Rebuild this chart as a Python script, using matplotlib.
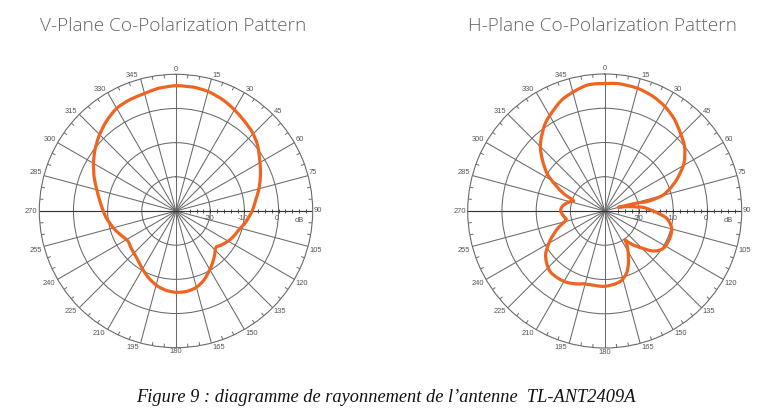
import numpy as np
import matplotlib
matplotlib.use("Agg")
import matplotlib.pyplot as plt
from matplotlib.path import Path
from matplotlib.patches import PathPatch

v_angle = [0, 8, 15, 23, 30, 37, 44, 51, 57, 64, 70, 76, 83, 90, 100, 106, 112, 118, 124, 128, 131,
           134, 139, 145, 150, 158, 165, 172, 180, 187, 194, 202, 209, 216, 223, 231, 238, 245, 253,
           259, 265, 270, 277, 285, 292, 300, 307, 314, 322, 330, 338, 345, 352, 360]
v_db = [6.7, 6.6, 6.2, 5.3, 4.2, 3.1, 2.1, 0.7, -0.9, -2.5, -3.8, -5.1, -6.6, -7.7, -9.5, -10.7, -11.4, -12.1,
        -13.0, -13.6, -14.2, -14.0, -12.8, -11.4, -10.2, -8.2, -6.9, -6.3, -6.2, -6.6, -7.4, -8.8, -10.2,
        -11.5, -12.4, -13.0, -13.4, -12.6, -11.3, -10.4, -9.4, -8.7, -7.6, -6.0, -4.2, -2.1, -0.3, 1.4,
        3.2, 4.7, 5.3, 5.6, 6.3, 6.7]

h_angle = [0, 6, 15, 23, 30, 37, 43.5, 51, 59, 66.7, 71, 74.7, 76.5, 77.5, 76.5, 76, 75, 79, 82.9, 84.6, 91.5,
           96.7, 104.5, 112.7, 122.5, 129.4, 136, 141, 145, 147, 150.8, 156, 160.6, 167.8, 180, 193.8, 201,
           207.9, 215, 222, 228, 234.3, 242, 250, 256.9, 262, 269, 274, 278.3, 284, 288.3, 293, 303, 315,
           325.8, 333, 339.9, 351.9, 360]
h_db = [7.2, 7.4, 7.1, 6.3, 5.2, 3.7, 1.9, 0.0, -3.0, -7.2, -9.8, -12.3, -15.0, -17.5, -19.6, -21.4, -25.9, -23.2,
        -20.6, -18.7, -14.9, -11.8, -9.8, -9.4, -9.7, -11.6, -15.2, -17.5, -19.7, -18.0, -15.9, -13.0, -10.8,
        -8.9, -8.0, -8.0, -7.2, -6.4, -6.1, -6.2, -7.2, -8.8, -12.0, -15.5, -18.4, -18.0, -17.2, -17.3, -17.9,
        -19.2, -20.4, -16.9, -9.9, -3.4, 0.9, 3.0, 5.0, 7.1, 7.2]

angle_labels = list(range(0, 360, 15))
angle_ticks = [a for a in range(0, 360, 5) if a % 15 != 0]
db_labels = [-20, -10, 0]
db_ticks = list(range(-26, 10, 2))

W, H = 780, 416
orange = "#ee6420"
grid_col = "#6a6a6a"
text_col = "#555555"
fig = plt.figure(figsize=(W / 100, H / 100), dpi=100)


def smooth_path(angles, vals, corners):
    # bezier through the read points, so the line does not look polygonal
    pts = np.column_stack([np.radians(angles), vals])
    tang = np.zeros_like(pts)
    tang[1:-1] = (pts[2:] - pts[:-2]) / 6
    for c in corners:
        tang[angles.index(c)] = 0
    verts = [pts[0]]
    codes = [Path.MOVETO]
    for i in range(len(pts) - 1):
        verts += [pts[i] + tang[i], pts[i + 1] - tang[i + 1], pts[i + 1]]
        codes += [Path.CURVE4] * 3
    return Path(np.array(verts), codes)


def pattern(cx, cy, R, title, title_x, angles, vals, corners):
    ax = fig.add_axes([(cx - R) / W, (H - cy - R) / H, 2 * R / W, 2 * R / H], projection="polar")
    ax.set_theta_zero_location("N")
    ax.set_theta_direction(-1)
    ax.set_ylim(-30, 10)
    ax.set_thetagrids(angle_labels, [""] * len(angle_labels))
    ax.tick_params(axis="x", length=0)
    ax.set_rticks(db_labels)
    ax.set_yticklabels([])
    ax.grid(True, color=grid_col, lw=0.75)
    ax.spines["polar"].set_color(grid_col)
    ax.spines["polar"].set_linewidth(0.8)

    for a in angle_ticks:
        ax.plot([np.radians(a)] * 2, [9.1, 10], color=grid_col, lw=0.7)

    for a in angle_labels:
        if a in (0, 180):
            ha, dx, dy = "center", 0, 5 if a == 0 else -4
        elif a < 180:
            ha, dx, dy = "left", 1, 3 if a < 90 else (-4 if a > 90 else 0)
        else:
            ha, dx, dy = "right", -2, 3 if a > 270 else (-4 if a < 270 else 0)
        ax.annotate(str(a), (np.radians(a), 10), xytext=(dx * 0.72, dy * 0.72), textcoords="offset points",
                    ha=ha, va="center", fontsize=5.4, color=text_col, family="Liberation Sans",
                    annotation_clip=False)

    # spoke along 90 is darker, with its own dB ticks
    ax.plot([np.pi / 2] * 2, [-30, 10], color="#333333", lw=0.8)
    ax.plot([np.pi * 1.5] * 2, [-30, 10], color="#333333", lw=0.8)
    ax.plot([np.pi / 2] * len(db_ticks), db_ticks, "|", color="#333333", ms=2.2, mew=0.6)

    for d in db_labels:
        ax.annotate(str(d), (np.pi / 2, d), xytext=(-1, -3), textcoords="offset points", ha="center",
                    va="top", fontsize=5.4, color=text_col, family="Liberation Sans")
    ax.annotate("dB", (np.pi / 2, 10), xytext=(-10, -4), textcoords="offset points", ha="center",
                va="top", fontsize=5.4, color=text_col, family="Liberation Sans")

    ax.add_patch(PathPatch(smooth_path(angles, vals, corners), fill=False, edgecolor=orange, lw=2.3,
                           joinstyle="round", zorder=5))
    ax.patch.set_alpha(0)
    fig.text(title_x / W, (H - 26) / H, title, ha="center", va="center", fontsize=13.7,
             color="#666666", family="Open Sans", fontweight="light")


pattern(176, 211, 136.7, "V-Plane Co-Polarization Pattern", 173.5, v_angle, v_db, [131])
pattern(604.7, 211, 137, "H-Plane Co-Polarization Pattern", 602, h_angle, h_db, [75, 145])

fig.text(386 / W, (H - 398) / H, "Figure 9 : diagramme de rayonnement de l\u2019antenne  TL-ANT2409A",
         ha="center", va="center", fontsize=13.2, style="italic", family="Liberation Serif", color="#111111")

fig.savefig("out.png", dpi=100)
